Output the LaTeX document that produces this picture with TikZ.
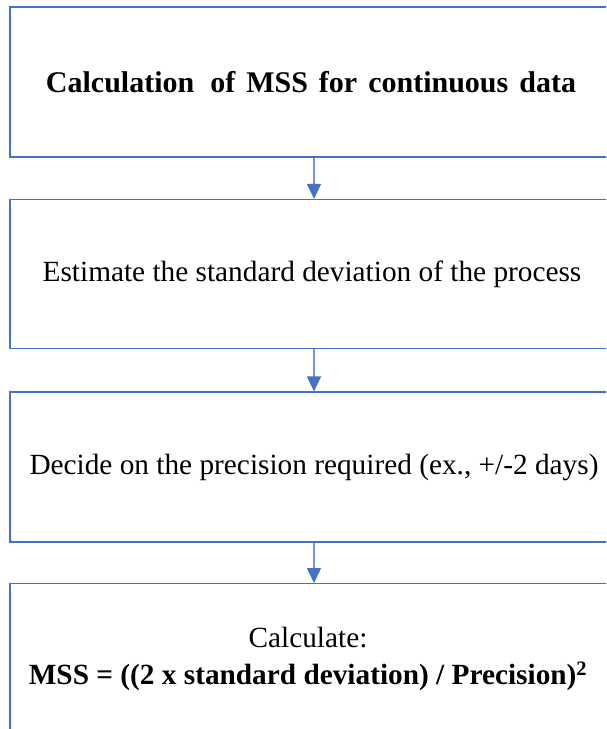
\documentclass[tikz,border=0pt]{standalone}
\usepackage{fontspec}
\setmainfont{Liberation Serif}
\usetikzlibrary{arrows.meta}
\definecolor{boxline}{RGB}{68,114,196}
\definecolor{shaft}{RGB}{112,150,214}
\begin{document}
\begin{tikzpicture}[x=1pt,y=-1pt,
  stage/.style={draw=boxline, line width=1.2pt, minimum width=608pt,
    inner sep=0pt, align=center, font=\fontsize{29.3}{35}\selectfont},
  flow/.style={draw=shaft, line width=1.5pt,
    -{Triangle[width=14pt,length=15pt,color=boxline]}}]
\useasboundingbox (0,0) rectangle (606,729);
\clip (0,0) rectangle (606,729);
\fill[white] (0,0) rectangle (606,729);
% the four stages of the calculation
\node[stage, minimum height=150pt, font=\fontsize{30}{36}\selectfont] (s1) at (314,82)
  {\bfseries\spaceskip=11pt plus 2pt Calculation\hspace{5pt} of MSS for continuous data\kern6pt};
\node[stage, minimum height=149pt] (s2) at (314,274)
  {Estimate the standard deviation of the process\kern4pt};
\node[stage, minimum height=150pt] (s3) at (314,467)
  {Decide on the precision required (ex., +/-2 days)};
\node[stage, minimum height=220pt, anchor=north] (s4) at (314,583) {};
\node[align=center, inner sep=0pt, font=\fontsize{29.3}{37}\selectfont] (t4) at (308,659)
  {Calculate:\\ \bfseries MSS = ((2 x standard deviation) / Precision)\textsuperscript{2}};
% connectors
\draw[flow] (s1.south) -- (s2.north);
\draw[flow] (s2.south) -- (s3.north);
\draw[flow] (s3.south) -- (s4.north);
\end{tikzpicture}
\end{document}
